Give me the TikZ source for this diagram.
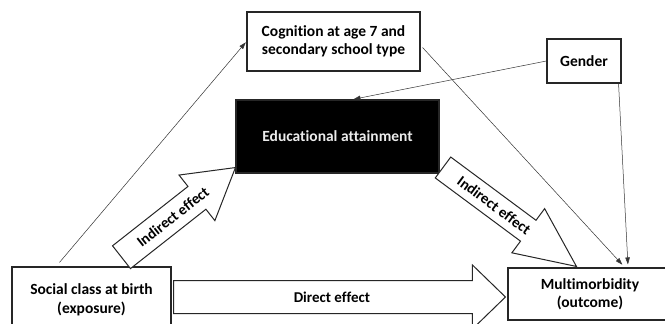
\documentclass[tikz,border=0pt]{standalone}
\usepackage{fontspec}
\setmainfont[Ligatures=NoCommon]{Carlito}
\usepackage{tikz}
\usetikzlibrary{arrows.meta}
\usetikzlibrary{calc}

\newcommand{\blockarrow}[7]{%
  \coordinate (hb) at ($(#2)!#5!(#1)$);
  \draw [block_style] ($(#1)!#3!90:(#2)$) -- ($(hb)!#3!-90:(#1)$) -- ($(hb)!#4!-90:(#1)$) -- (#2)
    -- ($(hb)!#4!90:(#1)$) -- ($(hb)!#3!90:(#1)$) -- ($(#1)!#3!-90:(#2)$) -- cycle;
  \path (#1) -- (hb) node[pos=#7, sloped, label_style] {#6};
}

\begin{document}
\begin{tikzpicture}[x=1pt, y=-1pt,
        box_style/.style={rectangle, draw=black!85, line width=1.1pt, fill=white, align=center, font=\fontsize{15.5}{18.5}\selectfont\bfseries, inner sep=0pt},
        dark_box_style/.style={box_style, fill=black, text=white!92!black},
        edge_style/.style={draw=black!80, line width=0.5pt, shorten >=1pt, -{Triangle[length=7pt,width=4.5pt]}},
        block_style/.style={draw=black!85, line width=1pt, fill=white, line join=miter},
        label_style/.style={font=\fontsize{15}{18}\selectfont\bfseries, inner sep=0pt}]
        \useasboundingbox (0,0) rectangle (665,324);

        \node [box_style, minimum width=173pt, minimum height=59pt](cognition) at (333.5,41.5) {Cognition at age 7 and\\secondary school type};
        \node [box_style, minimum width=74pt, minimum height=44pt](gender) at (584,61) {Gender};
        \node [dark_box_style, minimum width=203pt, minimum height=73pt](edu) at (337.5,136.5) {Educational attainment};
        \node [box_style, minimum width=159pt, minimum height=66pt](social) at (91.5,300) {Social class at birth\\(exposure)};
        \node [box_style, minimum width=164pt, minimum height=52pt](multi) at (590,294) {Multimorbidity\\(outcome)};

        \coordinate (ind1_tail) at (121.5,257.2);
        \coordinate (ind1_tip) at ($(edu.south west)+(0,-6)$);
        \coordinate (ind2_tail) at (443,167.5);
        \coordinate (ind2_tip) at ($(multi.north west)+(69,-1)$);
        \coordinate (dir_tail) at ($(social.east)+(2,-3)$);
        \coordinate (dir_tip) at ($(multi.west)+(-2,3)$);

        \blockarrow{ind1_tail}{ind1_tip}{14.5pt}{29pt}{49pt}{Indirect effect}{0.68}
        \blockarrow{ind2_tail}{ind2_tip}{13pt}{27.5pt}{60pt}{Indirect effect}{0.6}
        \blockarrow{dir_tail}{dir_tip}{16.5pt}{32pt}{33pt}{Direct effect}{0.53}

        \draw [edge_style] ($(social.north west)!0.3!(social.north east)+(0,-4)$) -- (cognition.west);
        \draw [edge_style] ($(cognition.east)+(2,6)$) -- ($(multi.north west)!0.7!(multi.north east)+(0,-2)$);
        \draw [edge_style] (gender.west) -- ($(edu.north)+(15,0)$);
        \draw [edge_style] ($(gender.south east)+(-3,0)$) -- ($(multi.north west)!0.73!(multi.north east)+(0,-2)$);
\end{tikzpicture}
\end{document}
